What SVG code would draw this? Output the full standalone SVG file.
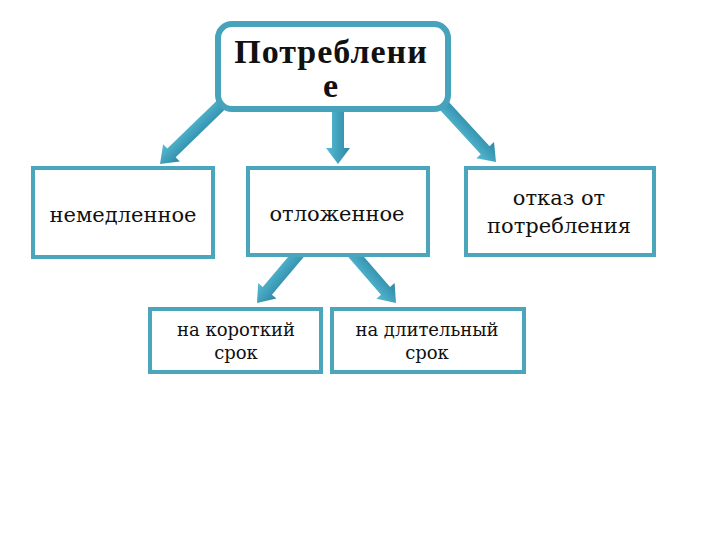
<svg xmlns="http://www.w3.org/2000/svg" width="720" height="540" viewBox="0 0 720 540">
<defs>
<linearGradient id="ag" x1="0" y1="0" x2="1" y2="0">
<stop offset="0" stop-color="#57bcd3"/>
<stop offset="1" stop-color="#2c87a6"/>
</linearGradient>
<style>
.box{fill:#fff;stroke:#4ba6bc;stroke-width:4}
.top{fill:#fff;stroke:#46a3bb;stroke-width:6}
.arr{fill:url(#ag)}
.t{font-family:"DejaVu Serif","Liberation Serif",serif;fill:#111;text-anchor:middle}
.tb{font-family:"Liberation Serif","DejaVu Serif",serif;font-weight:bold;fill:#111;text-anchor:middle;font-size:34px;letter-spacing:1px}
.m{font-size:21px}
.s{font-size:18px}
</style>
</defs>
<rect width="720" height="540" fill="#fff"/>
<g id="connectors">
<polygon class="arr" points="0,0 12,-16 6,-16 6,-92 -6,-92 -6,-16 -12,-16" transform="translate(160,164) rotate(45.9)"/>
<polygon class="arr" points="0,0 12,-16 6,-16 6,-52 -6,-52 -6,-16 -12,-16" transform="translate(338,164)"/>
<polygon class="arr" points="0,0 12,-16 6,-16 6,-86 -6,-86 -6,-16 -12,-16" transform="translate(496,162) rotate(-42.6)"/>
<polygon class="arr" points="0,0 12,-16 6,-16 6,-70 -6,-70 -6,-16 -12,-16" transform="translate(257,303) rotate(40.2)"/>
<polygon class="arr" points="0,0 12,-16 6,-16 6,-70 -6,-70 -6,-16 -12,-16" transform="translate(396,303) rotate(-40.9)"/>
</g>
<g id="n-top">
<rect class="top" x="218" y="24" width="230" height="85" rx="14"/>
<text class="tb" x="331" y="63">Потреблени</text>
<text class="tb" x="331" y="97">е</text>
</g>
<g id="n-immediate">
<rect class="box" x="33" y="168" width="180" height="89"/>
<text class="t m" x="123" y="222">немедленное</text>
</g>
<g id="n-deferred">
<rect class="box" x="248" y="168" width="180" height="87"/>
<text class="t m" x="337" y="221">отложенное</text>
</g>
<g id="n-refuse">
<rect class="box" x="466" y="168" width="188" height="87"/>
<text class="t m" x="559" y="205">отказ от</text>
<text class="t m" x="559" y="233">потребления</text>
</g>
<g id="n-short">
<rect class="box" x="150" y="309" width="171" height="63"/>
<text class="t s" x="236" y="336">на короткий</text>
<text class="t s" x="236" y="359">срок</text>
</g>
<g id="n-long">
<rect class="box" x="332" y="309" width="192" height="63"/>
<text class="t s" x="427" y="336">на длительный</text>
<text class="t s" x="427" y="359">срок</text>
</g>
</svg>
